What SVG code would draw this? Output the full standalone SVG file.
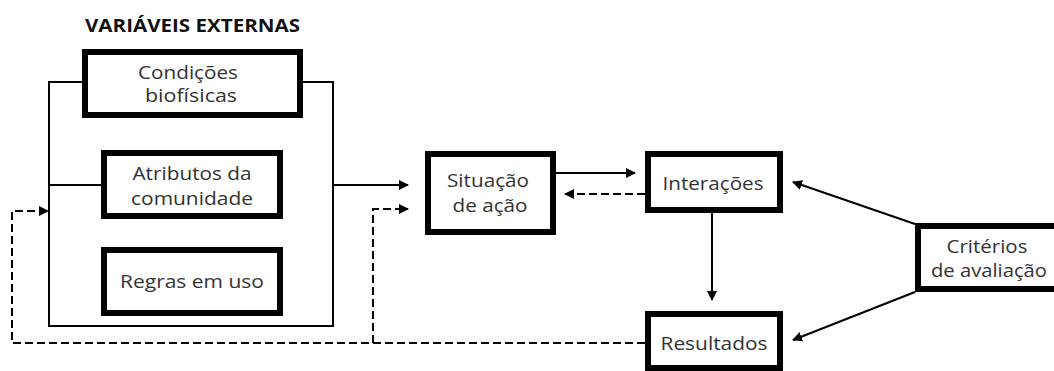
<svg xmlns="http://www.w3.org/2000/svg" width="1054" height="371" viewBox="0 0 1054 371">
<style>
.box{fill:#fff;stroke:#000;stroke-width:6}
.ln{fill:none;stroke:#000;stroke-width:2}
.ds{fill:none;stroke:#000;stroke-width:2;stroke-dasharray:8 4}
text{font-family:"Open Sans","Noto Sans",sans-serif;font-size:18px;fill:#333;text-anchor:middle}
.title{font-weight:bold;fill:#111;text-anchor:start}
</style>
<defs>
<marker id="ah" viewBox="0 0 10 10" refX="9" refY="5" markerWidth="5" markerHeight="5" orient="auto" markerUnits="strokeWidth">
<path d="M0,0 L10,5 L0,10 z" fill="#000"/>
</marker>
</defs>
<rect width="1054" height="371" fill="#fff"/>
<text class="title" x="85" y="32" textLength="215" lengthAdjust="spacingAndGlyphs">VARIÁVEIS EXTERNAS</text>
<g id="connectors">
<path class="ln" d="M82,82 H49 V326 H333 V82 H303"/>
<path class="ln" d="M49,185 H101"/>
<path class="ln" d="M333,185 H408" marker-end="url(#ah)"/>
<path class="ds" d="M645,343 H12 V211 H48" marker-end="url(#ah)"/>
<path class="ds" d="M373,343 V209 H408" marker-end="url(#ah)"/>
<path class="ln" d="M556,173 H635" marker-end="url(#ah)"/>
<path class="ds" d="M645,194 H565" marker-end="url(#ah)"/>
<path class="ln" d="M712,213 V300" marker-end="url(#ah)"/>
<path class="ln" d="M915,224 L793,182" marker-end="url(#ah)"/>
<path class="ln" d="M915,292 L793,340" marker-end="url(#ah)"/>
</g>
<g id="condicoes">
<rect class="box" x="85" y="52" width="215" height="63"/>
<text x="188" y="79" textLength="100" lengthAdjust="spacingAndGlyphs">Condições</text>
<text x="191" y="102" textLength="92" lengthAdjust="spacingAndGlyphs">biofísicas</text>
</g>
<g id="atributos">
<rect class="box" x="104" y="153" width="176" height="63"/>
<text x="192" y="180" textLength="119" lengthAdjust="spacingAndGlyphs">Atributos da</text>
<text x="192" y="205" textLength="122" lengthAdjust="spacingAndGlyphs">comunidade</text>
</g>
<g id="regras">
<rect class="box" x="104" y="250" width="176" height="63"/>
<text x="192" y="288" textLength="144" lengthAdjust="spacingAndGlyphs">Regras em uso</text>
</g>
<g id="situacao">
<rect class="box" x="428" y="154" width="125" height="78"/>
<text x="488" y="187" textLength="82" lengthAdjust="spacingAndGlyphs">Situação</text>
<text x="490" y="212" textLength="75" lengthAdjust="spacingAndGlyphs">de ação</text>
</g>
<g id="interacoes">
<rect class="box" x="648" y="154" width="132" height="56"/>
<text x="713" y="190" textLength="101" lengthAdjust="spacingAndGlyphs">Interações</text>
</g>
<g id="resultados">
<rect class="box" x="648" y="314" width="132" height="54"/>
<text x="714" y="350" textLength="107" lengthAdjust="spacingAndGlyphs">Resultados</text>
</g>
<g id="criterios">
<rect class="box" x="918" y="226" width="150" height="63"/>
<text x="987" y="253" textLength="81" lengthAdjust="spacingAndGlyphs">Critérios</text>
<text x="989" y="277" textLength="116" lengthAdjust="spacingAndGlyphs">de avaliação</text>
</g>
</svg>
